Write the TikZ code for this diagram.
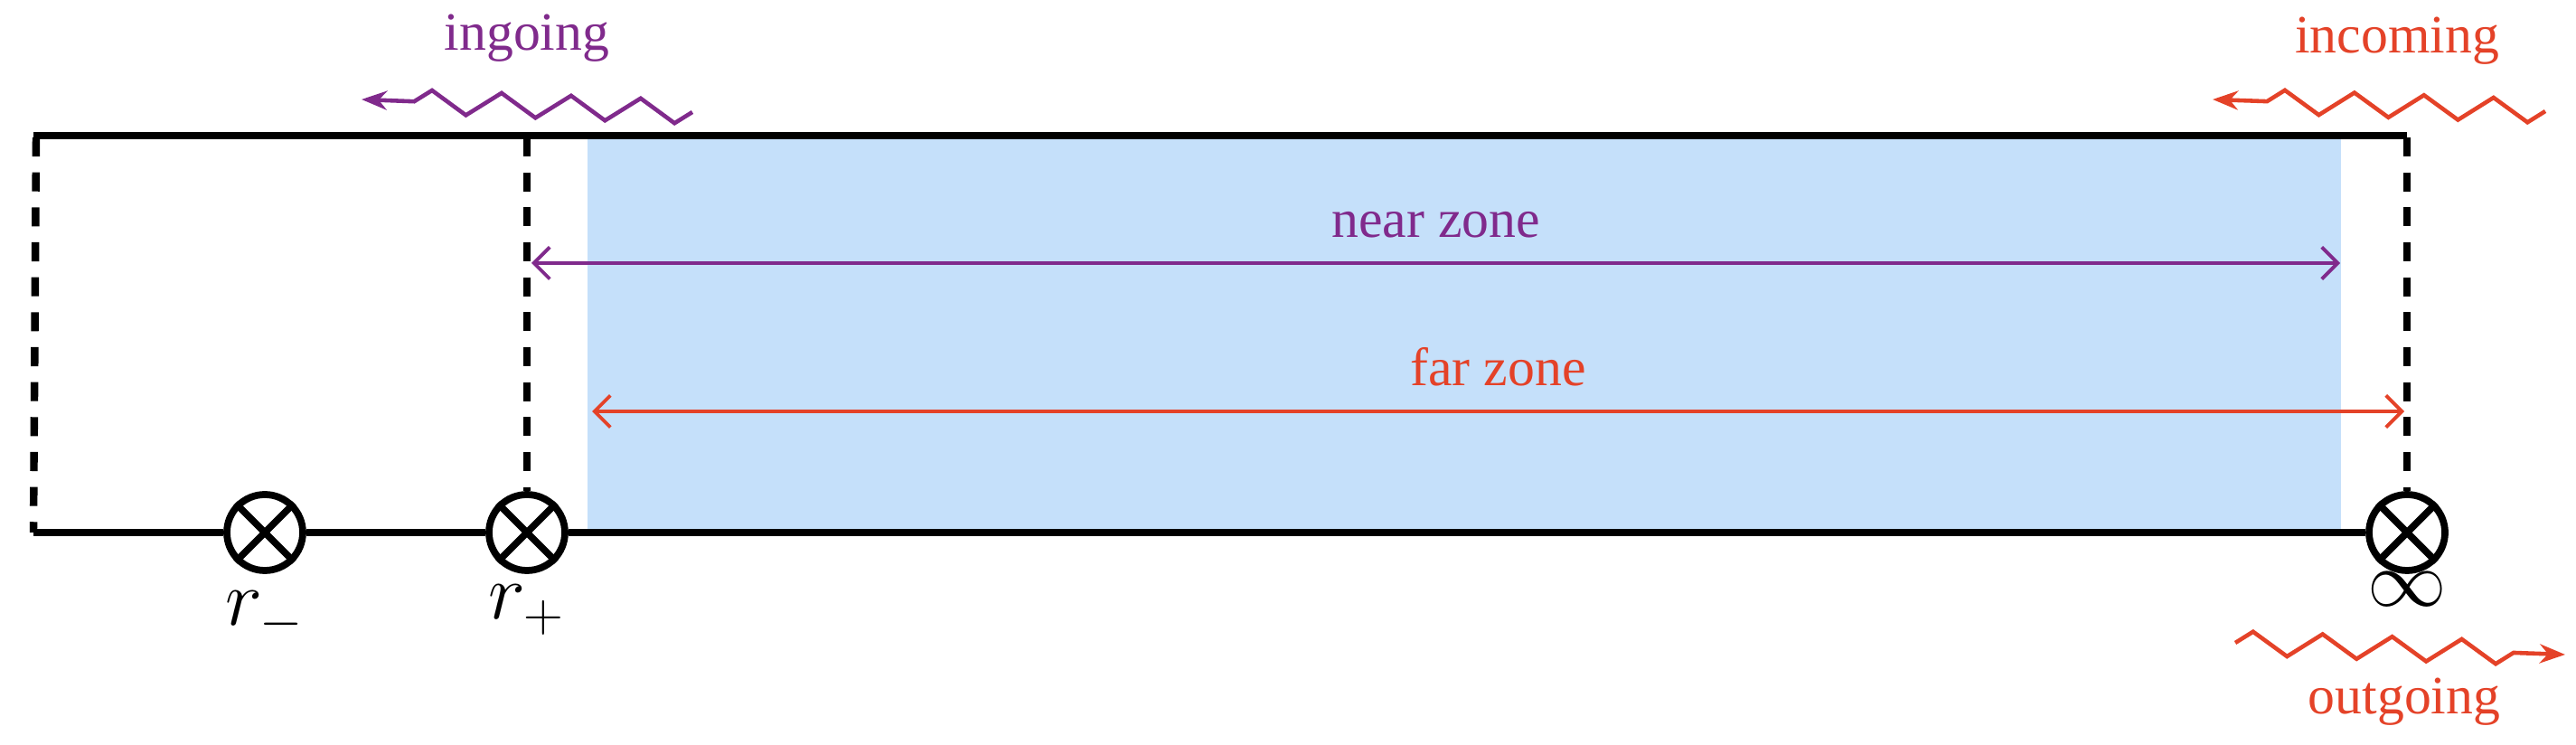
\documentclass[tikz,border=0pt]{standalone}
\usepackage{fontspec}
\setmainfont{Liberation Serif}
\usetikzlibrary{arrows.meta,decorations.pathmorphing}
\definecolor{zonepurple}{RGB}{128,42,140}
\definecolor{zonered}{RGB}{228,66,40}
\definecolor{zoneblue}{RGB}{197,224,250}
\tikzset{
  edge/.style={draw=black, line width=2.2pt},
  horizon/.style={draw=black, line width=2.4pt, dash pattern=on 6pt off 5pt},
  pole/.style={circle, draw=black, line width=2.2pt, minimum size=0.84cm, inner sep=0pt, fill=white},
  span/.style={{Straight Barb[length=5pt]}-{Straight Barb[length=5pt]}, line width=1.1pt},
  wave/.style={-{Stealth[length=8pt]}, line width=1.3pt, decorate,
    decoration={zigzag, segment length=0.77cm, amplitude=0.13cm, post length=0.5cm}},
  wavelabel/.style={font=\fontsize{17}{20}\selectfont},
  poslabel/.style={font=\fontsize{26}{30}\selectfont}
}
\begin{document}
\begin{tikzpicture}[x=1cm,y=-1cm]
  \useasboundingbox (0,0) rectangle (28.5,8.24);
  % near-zone shading
  \fill[zoneblue] (6.50,1.52) rectangle (25.90,5.86);
  % boundary lines
  \coordinate (tl) at (0.37,1.50);
  \coordinate (tr) at (26.63,1.50);
  \coordinate (bl) at (0.37,5.89);
  \draw[edge] (tl) -- (tr);
  \node[pole] (rm) at (2.93,5.89) {};
  \node[pole] (rp) at (5.83,5.89) {};
  \node[pole] (inf) at (26.63,5.89) {};
  \draw[edge] (bl) -- (rm) -- (rp) -- (inf);
  \foreach \p in {rm,rp,inf}
    \draw[line width=2.2pt] (\p.north east) -- (\p.south west) (\p.north west) -- (\p.south east);
  % horizons
  \coordinate (ltop) at (0.40,1.52);
  \coordinate (rptop) at (5.83,1.52);
  \coordinate (inftop) at (26.63,1.52);
  \draw[horizon] (ltop) -- (bl);
  \draw[horizon] (rptop) -- (rp.north);
  \draw[horizon] (inftop) -- (inf.north);
  \node[poslabel, below=2pt] at (rm.south) {$r_{-}$};
  \node[poslabel, below=0pt] at (rp.south) {$r_{+}$};
  \node[poslabel, below=-4pt] (inflabel) at (inf.south) {$\infty$};
  % zones
  \coordinate (nearL) at (5.88,2.91);
  \coordinate (nearR) at (25.89,2.91);
  \coordinate (farL) at (6.55,4.55);
  \coordinate (farR) at (26.60,4.55);
  \draw[span, zonepurple] (nearL) -- node[above=4pt, wavelabel] {near zone} (nearR);
  \draw[span, zonered] (farL) -- node[above=4pt, wavelabel] {far zone} (farR);
  % waves
  \coordinate (inA) at (7.66,1.24);
  \coordinate (inB) at (4.00,1.10);
  \draw[wave, zonepurple] (inA) -- (inB);
  \node[wavelabel, zonepurple] (ingoing) at (5.83,0.42) {ingoing};
  \coordinate (icA) at (28.16,1.23);
  \coordinate (icB) at (24.48,1.10);
  \draw[wave, zonered] (icA) -- (icB);
  \node[wavelabel, zonered] (incoming) at (26.52,0.45) {incoming};
  \coordinate (ogA) at (24.73,7.11);
  \coordinate (ogB) at (28.38,7.24);
  \draw[wave, zonered] (ogA) -- (ogB);
  \node[wavelabel, zonered] (outgoing) at (26.60,7.76) {outgoing};
\end{tikzpicture}
\end{document}
